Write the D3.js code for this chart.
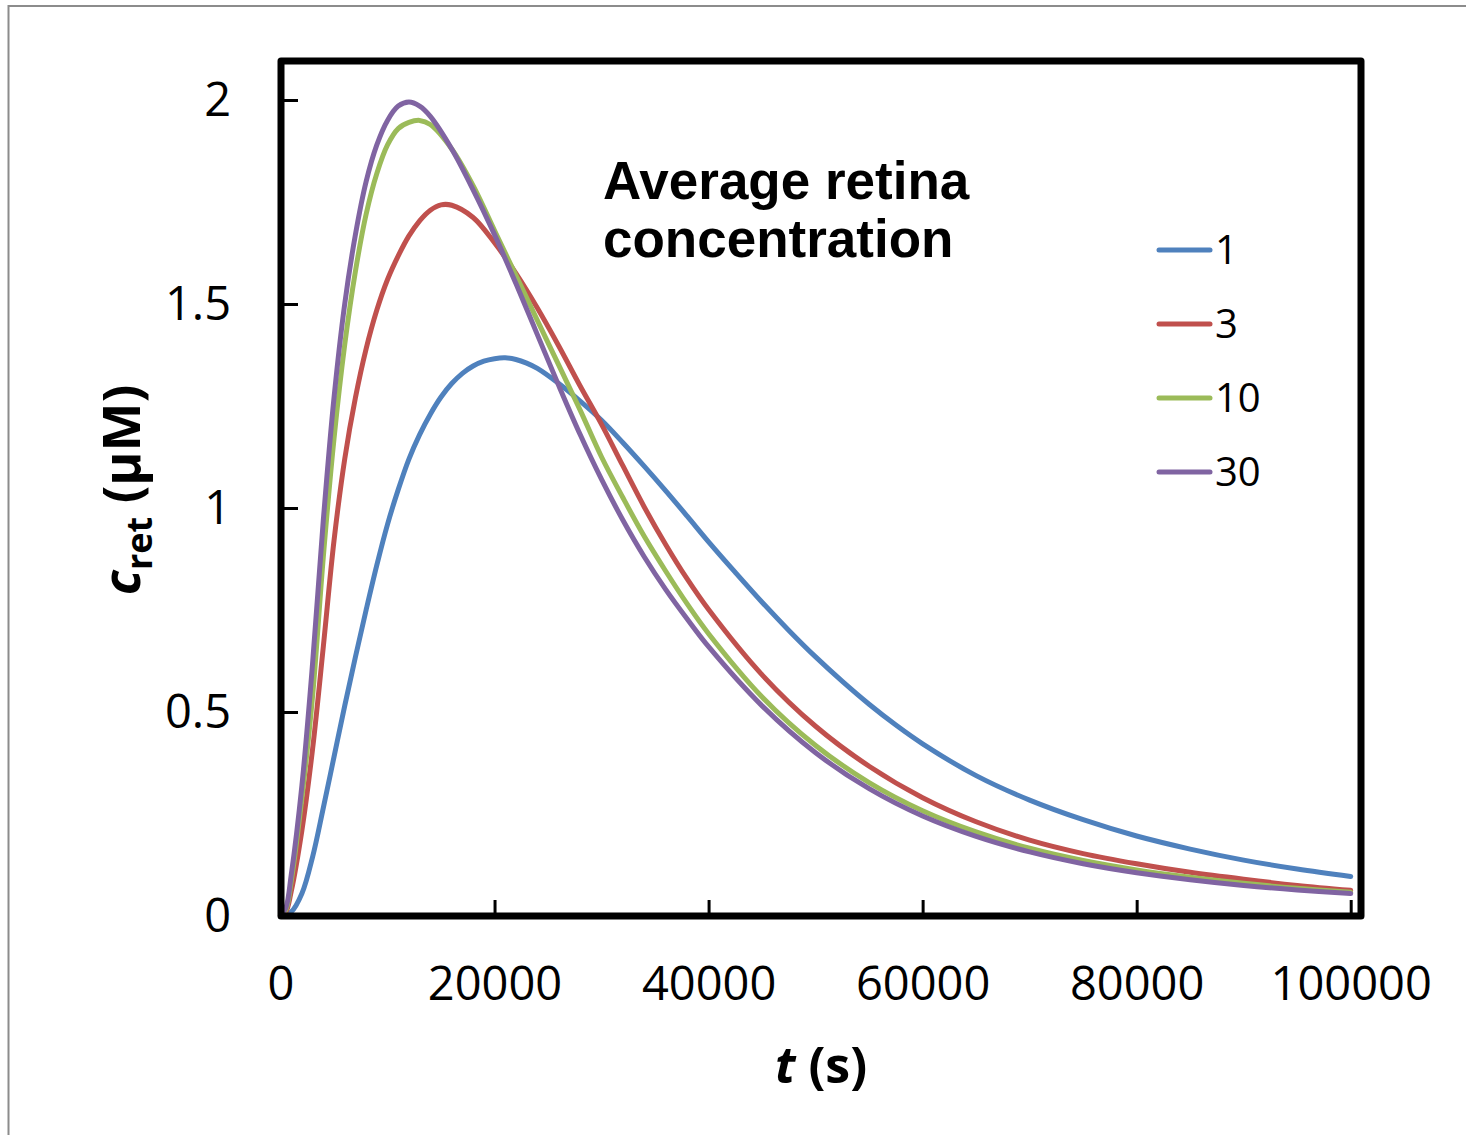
<!DOCTYPE html>
<html>
<head>
<meta charset="utf-8">
<script src="https://cdn.jsdelivr.net/npm/d3@7/dist/d3.min.js"></script>
<style>
  html, body { margin: 0; padding: 0; background: #fff; }
  svg { display: block; }
</style>
</head>
<body>
<svg id="chart" width="1466" height="1135"></svg>
<script>
// ---------------- data ----------------
const seriesNames = ["1", "3", "10", "30"];
const seriesColors = ["#4F81BD", "#C0504D", "#9BBB59", "#8064A2"];

const tBlue   = [0,1000,2000,3000,4000,5000,6000,7000,8000,9000,10000,11000,12000,13000,14000,15000,16000,17000,18000,19000,20000,21000,22000,23000,24000,26000,28000,30000,32000,34000,36000,38000,40000,42500,45000,47500,50000,52500,55000,57500,60000,65000,70000,75000,80000,85000,90000,95000,100000];
const cBlue   = [0,0.01,0.055,0.145,0.265,0.39,0.515,0.635,0.75,0.86,0.96,1.045,1.12,1.18,1.23,1.272,1.305,1.33,1.348,1.36,1.366,1.368,1.364,1.355,1.342,1.305,1.262,1.215,1.16,1.102,1.042,0.98,0.917,0.842,0.769,0.70,0.635,0.575,0.519,0.468,0.422,0.344,0.284,0.236,0.196,0.164,0.137,0.115,0.097];

const tRed    = [0,500,1000,2000,3000,4000,5000,6000,7000,8000,9000,10000,11000,12000,13000,14000,15000,16000,18000,20000,22000,24000,26000,28000,30000,32000,34000,36000,38000,40000,45000,50000,55000,60000,65000,70000,75000,80000,85000,90000,95000,100000];
const cRed    = [0,0.01,0.06,0.21,0.41,0.66,0.92,1.12,1.27,1.39,1.485,1.56,1.618,1.667,1.704,1.73,1.743,1.742,1.712,1.65,1.575,1.49,1.397,1.299,1.205,1.103,1.002,0.91,0.826,0.751,0.591,0.465,0.367,0.29,0.231,0.186,0.153,0.128,0.107,0.09,0.075,0.063];

const tGreen  = [0,500,1000,2000,3000,4000,5000,6000,7000,8000,9000,10000,11000,12000,13000,14000,16000,18000,20000,22000,24000,26000,28000,30000,32000,34000,36000,38000,40000,45000,50000,55000,60000,65000,70000,75000,80000,85000,90000,95000,100000];
const cGreen  = [0,0.015,0.085,0.29,0.54,0.88,1.17,1.40,1.58,1.72,1.82,1.89,1.93,1.945,1.95,1.94,1.88,1.79,1.68,1.57,1.46,1.35,1.24,1.125,1.025,0.93,0.845,0.765,0.692,0.537,0.418,0.327,0.258,0.206,0.166,0.136,0.113,0.095,0.08,0.068,0.058];

const tPurple = [0,500,1000,2000,3000,4000,5000,6000,7000,8000,9000,10000,11000,12000,13000,14000,16000,18000,20000,22000,24000,26000,28000,30000,32000,34000,36000,38000,40000,45000,50000,55000,60000,65000,70000,75000,80000,85000,90000,95000,100000];
const cPurple = [0,0.02,0.10,0.32,0.62,0.97,1.27,1.50,1.67,1.80,1.89,1.95,1.985,1.995,1.985,1.96,1.88,1.78,1.67,1.55,1.425,1.30,1.18,1.07,0.97,0.88,0.80,0.728,0.66,0.515,0.40,0.312,0.245,0.195,0.157,0.128,0.106,0.089,0.075,0.064,0.055];

const xTicks = [0, 20000, 40000, 60000, 80000, 100000];
const yTicks = [0, 0.5, 1, 1.5, 2];
const yTickLabels = ["0", "0.5", "1", "1.5", "2"];
const annotationLines = ["Average retina", "concentration"];

const seriesT = [tBlue, tRed, tGreen, tPurple];
const seriesC = [cBlue, cRed, cGreen, cPurple];

// ---------------- drawing ----------------
const svg = d3.select("#chart");

// outer frame
svg.append("rect")
  .attr("x", 8.5).attr("y", 6).attr("width", 1600).attr("height", 1400)
  .attr("fill", "#fff").attr("stroke", "#8c8c8c").attr("stroke-width", 2);

const x = d3.scaleLinear().domain([0, 100000]).range([280.5, 1350.7]);
const y = d3.scaleLinear().domain([0, 2]).range([916, 100]);

const FONT = "'Open Sans', 'Noto Sans', sans-serif";

// y axis
const yAxis = svg.append("g")
  .attr("transform", "translate(282,0)")
  .call(d3.axisLeft(y).tickValues(yTicks).tickFormat((d, i) => yTickLabels[i])
        .tickSizeInner(-16).tickSizeOuter(0).tickPadding(51));
yAxis.select(".domain").remove();
yAxis.selectAll(".tick line").attr("stroke", "#000").attr("stroke-width", 3);
yAxis.selectAll(".tick text")
  .attr("font-family", FONT).attr("font-size", 47).attr("fill", "#000")
  .attr("dy", "0.34em");

// x axis
const xAxis = svg.append("g")
  .attr("transform", "translate(0,916)")
  .call(d3.axisBottom(x).tickValues(xTicks).tickFormat(d3.format("d"))
        .tickSizeInner(-16).tickSizeOuter(0).tickPadding(0));
xAxis.select(".domain").remove();
xAxis.selectAll(".tick line").attr("stroke", "#000").attr("stroke-width", 3);
xAxis.selectAll(".tick text")
  .attr("font-family", FONT).attr("font-size", 47).attr("fill", "#000")
  .attr("y", 84).attr("dy", 0);

// series lines
const line = d3.line()
  .x(d => x(d[0])).y(d => y(d[1]))
  .curve(d3.curveCatmullRom.alpha(0.5));

seriesNames.forEach((name, i) => {
  const pts = seriesT[i].map((t, j) => [t, seriesC[i][j]]);
  svg.append("path")
    .datum(pts)
    .attr("d", line)
    .attr("fill", "none")
    .attr("stroke", seriesColors[i])
    .attr("stroke-width", 5)
    .attr("stroke-linecap", "round")
    .attr("stroke-linejoin", "round");
});

// plot box
svg.append("rect")
  .attr("x", 281).attr("y", 61).attr("width", 1080).attr("height", 855)
  .attr("fill", "none").attr("stroke", "#000").attr("stroke-width", 7)
  .attr("stroke-linejoin", "round");

// annotation
const ann = svg.append("text")
  .attr("font-family", "'Liberation Sans', Arial, sans-serif")
  .attr("font-weight", "bold").attr("font-size", 53).attr("fill", "#000");
annotationLines.forEach((s, i) => {
  ann.append("tspan").attr("x", 603).attr("y", 199 + i * 58).text(s);
});

// legend
const legY = [250, 324, 398, 472];
seriesNames.forEach((name, i) => {
  const g = svg.append("g");
  g.append("line")
    .attr("x1", 1159).attr("x2", 1210)
    .attr("y1", legY[i]).attr("y2", legY[i])
    .attr("stroke", seriesColors[i]).attr("stroke-width", 5)
    .attr("stroke-linecap", "round");
  g.append("text")
    .attr("x", 1215).attr("y", legY[i]).attr("dy", "0.36em")
    .attr("font-family", FONT).attr("font-size", 40).attr("fill", "#000")
    .text(name);
});

// x axis title
const xt = svg.append("text")
  .attr("x", 821).attr("y", 1083)
  .attr("text-anchor", "middle")
  .attr("font-family", FONT).attr("font-weight", "bold").attr("font-size", 50).attr("fill", "#000");
xt.append("tspan").attr("font-style", "italic").text("t");
xt.append("tspan").text(" (s)");

// y axis title
const yt = svg.append("text")
  .attr("transform", "translate(140,490) rotate(-90)")
  .attr("text-anchor", "middle")
  .attr("font-family", FONT).attr("font-weight", "bold").attr("font-size", 52).attr("fill", "#000");
yt.append("tspan").attr("font-style", "italic").text("c");
yt.append("tspan").attr("font-size", 36).attr("dy", 12).text("ret");
yt.append("tspan").attr("dy", -12).text(" (\u03BCM)");
</script>
</body>
</html>
